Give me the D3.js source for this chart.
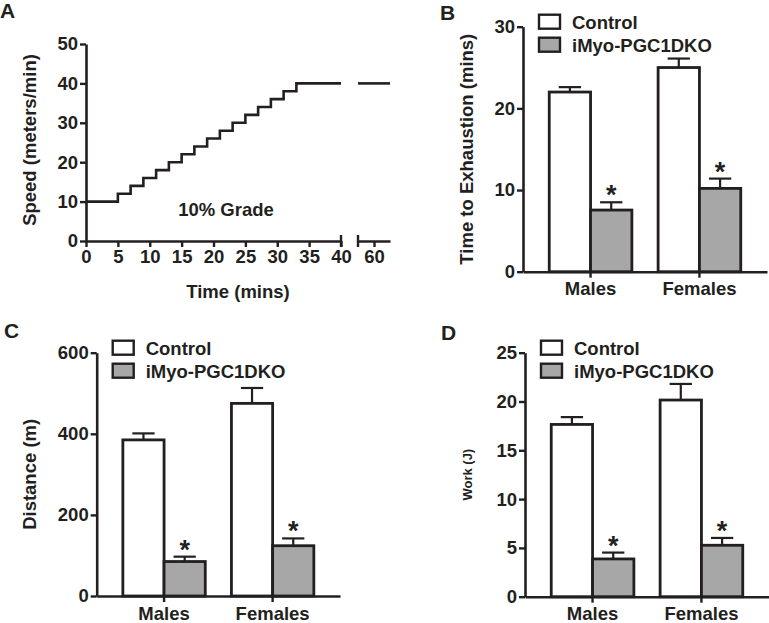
<!DOCTYPE html>
<html><head><meta charset="utf-8">
<script src="https://cdn.jsdelivr.net/npm/d3@7"></script>
<style>
body{margin:0;background:#fff;}
text{font-family:"Liberation Sans",Arial,sans-serif;font-weight:bold;fill:#231f20;}
</style></head>
<body><svg id="c" width="769" height="623"></svg>
<script>
// ---------- DATA ----------
// Panel A: treadmill protocol (step function)
const stepTimes  = [0, 5, 7, 9, 11, 13, 15, 17, 19, 21, 23, 25, 27, 29, 31, 33, 40];
const stepSpeeds = [10, 12, 14, 16, 18, 20, 22, 24, 26, 28, 30, 32, 34, 36, 38, 40, 40];
const tailTimes  = [57.5, 62.5];
const tailSpeeds = [40, 40];
const aXTicks1 = [0, 5, 10, 15, 20, 25, 30, 35, 40];
const aXTicks2 = [60];
const aYTicks = [0, 10, 20, 30, 40, 50];

const categories = ["Males", "Females"];
const seriesNames = ["Control", "iMyo-PGC1DKO"];
// Panel B: time to exhaustion (mins)
const timeControl = [22.0, 25.0];
const timeControlErr = [0.6, 1.1];
const timeKO = [7.55, 10.2];
const timeKOErr = [0.95, 1.2];
// Panel C: distance (m)
const distControl = [385, 475];
const distControlErr = [16, 38];
const distKO = [85, 124];
const distKOErr = [12, 18];
// Panel D: work (J)
const workControl = [17.65, 20.15];
const workControlErr = [0.75, 1.65];
const workKO = [3.87, 5.27];
const workKOErr = [0.65, 0.75];

const bTicks = [0, 10, 20, 30];
const cTicks = [0, 200, 400, 600];
const dTicks = [0, 5, 10, 15, 20, 25];

const fills = ["#ffffff", "#a7a7a7"];
const ink = "#231f20";
const TICK_FS = 18.5;

const svg = d3.select("#c");

function styleAxis(g, fs){
  g.selectAll(".domain").attr("stroke", ink).attr("stroke-width", 2.6);
  g.selectAll(".tick line").attr("stroke", ink).attr("stroke-width", 2.4);
  g.selectAll(".tick text").style("font-size", fs + "px").attr("fill", ink);
}

// ---------- Panel A ----------
(function(){
  const y = d3.scaleLinear().domain([0, 50]).range([241, 44]);
  const x1 = d3.scaleLinear().domain([0, 40]).range([86, 341]);
  const x2 = d3.scaleLinear().domain(tailTimes).range([358, 390]);
  const g = svg.append("g");
  const yAx = g.append("g").attr("transform", "translate(86,0)")
    .call(d3.axisLeft(y).tickValues(aYTicks).tickFormat(d3.format("d")).tickSize(6).tickPadding(2).tickSizeOuter(0));
  styleAxis(yAx, TICK_FS);
  const xAx1 = g.append("g").attr("transform", "translate(0,241)")
    .call(d3.axisBottom(x1).tickValues(aXTicks1).tickFormat(d3.format("d")).tickSize(6).tickPadding(3).tickSizeOuter(0));
  styleAxis(xAx1, TICK_FS);
  const xAx2 = g.append("g").attr("transform", "translate(0,241)")
    .call(d3.axisBottom(x2).tickValues(aXTicks2).tickFormat(d3.format("d")).tickSize(6).tickPadding(3).tickSizeOuter(0));
  styleAxis(xAx2, TICK_FS);
  // break marks
  [x1(40), x2(tailTimes[0])].forEach(bx => {
    g.append("line").attr("x1", bx).attr("x2", bx).attr("y1", 235).attr("y2", 247)
      .attr("stroke", ink).attr("stroke-width", 2.4);
  });
  const line1 = d3.line().x((d, i) => x1(stepTimes[i])).y(d => y(d)).curve(d3.curveStepAfter);
  g.append("path").datum(stepSpeeds).attr("d", line1).attr("fill", "none")
    .attr("stroke", ink).attr("stroke-width", 2.6);
  const line2 = d3.line().x((d, i) => x2(tailTimes[i])).y(d => y(d));
  g.append("path").datum(tailSpeeds).attr("d", line2).attr("fill", "none")
    .attr("stroke", ink).attr("stroke-width", 2.6);
  g.append("text").attr("x", 226).attr("y", 216).attr("text-anchor", "middle")
    .style("font-size", "18.5px").text("10% Grade");
  g.append("text").attr("x", 238).attr("y", 298).attr("text-anchor", "middle")
    .style("font-size", "18.5px").text("Time (mins)");
  g.append("text").attr("transform", "translate(36,140) rotate(-90)").attr("text-anchor", "middle")
    .style("font-size", "18.5px").text("Speed (meters/min)");
  g.append("text").attr("x", 0).attr("y", 18).style("font-size", "21px").text("A");
})();

// ---------- Bar panels ----------
function barPanel(opt){
  const {x0, x1, yBase, yTop, domMax, ticks, ctrl, ctrlErr, ko, koErr, yLabel, yLabelX, yLabelSize, letter, letterX, letterY} = opt;
  const g = svg.append("g");
  const y = d3.scaleLinear().domain([0, domMax]).range([yBase, yTop]);
  const x = d3.scaleBand().domain(categories).range([x0, x1]).paddingInner(0.241).paddingOuter(0.241);
  const xs = d3.scaleBand().domain(seriesNames).range([0, x.bandwidth()]);
  const vals = [ctrl, ko], errs = [ctrlErr, koErr];
  const data = [];
  categories.forEach((c, ci) => seriesNames.forEach((s, si) => {
    data.push({c, s, si, v: vals[si][ci], e: errs[si][ci]});
  }));
  // error bars (upward only)
  data.forEach(d => {
    const cx = x(d.c) + xs(d.s) + xs.bandwidth() / 2;
    g.append("line").attr("x1", cx).attr("x2", cx).attr("y1", y(d.v)).attr("y2", y(d.v + d.e))
      .attr("stroke", ink).attr("stroke-width", 2.2);
    g.append("line").attr("x1", cx - xs.bandwidth() * 0.27).attr("x2", cx + xs.bandwidth() * 0.27)
      .attr("y1", y(d.v + d.e)).attr("y2", y(d.v + d.e)).attr("stroke", ink).attr("stroke-width", 2.2);
    if (d.si === 1) {
      g.append("text").attr("x", cx).attr("y", y(d.v + d.e) + 2).attr("text-anchor", "middle")
        .style("font-size", "27px").text("*");
    }
  });
  g.selectAll("rect.bar").data(data).enter().append("rect").attr("class", "bar")
    .attr("x", d => x(d.c) + xs(d.s)).attr("width", xs.bandwidth())
    .attr("y", d => y(d.v)).attr("height", d => yBase - y(d.v))
    .attr("fill", d => fills[d.si]).attr("stroke", ink).attr("stroke-width", 2.8);
  const yAx = g.append("g").attr("transform", `translate(${x0},0)`)
    .call(d3.axisLeft(y).tickValues(ticks).tickFormat(d3.format("d")).tickSize(6).tickPadding(2).tickSizeOuter(0));
  styleAxis(yAx, TICK_FS);
  const xAx = g.append("g").attr("transform", `translate(0,${yBase})`)
    .call(d3.axisBottom(x).tickSize(6).tickPadding(4.5).tickSizeOuter(0));
  styleAxis(xAx, 18.5);
  // legend
  seriesNames.forEach((s, i) => {
    const by = yTop - 12 + i * 23;
    g.append("rect").attr("x", x0 + 16).attr("y", by).attr("width", 21).attr("height", 14)
      .attr("fill", fills[i]).attr("stroke", ink).attr("stroke-width", 2.4);
    g.append("text").attr("x", x0 + 49).attr("y", by + 14).style("font-size", "18.5px").text(s);
  });
  g.append("text").attr("transform", `translate(${yLabelX},${(yBase + yTop) / 2}) rotate(-90)`)
    .attr("text-anchor", "middle").style("font-size", yLabelSize + "px").text(yLabel);
  g.append("text").attr("x", letterX).attr("y", letterY).style("font-size", "21px").text(letter);
}

barPanel({x0: 523, x1: 767, yBase: 271.7, yTop: 26.7, domMax: 30, ticks: bTicks,
  ctrl: timeControl, ctrlErr: timeControlErr, ko: timeKO, koErr: timeKOErr,
  yLabel: "Time to Exhaustion (mins)", yLabelX: 473, yLabelSize: 18.5, letter: "B", letterX: 440, letterY: 20});
barPanel({x0: 96.7, x1: 340, yBase: 596, yTop: 352.7, domMax: 600, ticks: cTicks,
  ctrl: distControl, ctrlErr: distControlErr, ko: distKO, koErr: distKOErr,
  yLabel: "Distance (m)", yLabelX: 36, yLabelSize: 18.5, letter: "C", letterX: 4, letterY: 338});
barPanel({x0: 525, x1: 769, yBase: 596.7, yTop: 352.7, domMax: 25, ticks: dTicks,
  ctrl: workControl, ctrlErr: workControlErr, ko: workKO, koErr: workKOErr,
  yLabel: "Work (J)", yLabelX: 472, yLabelSize: 13, letter: "D", letterX: 441, letterY: 340});
</script></body></html>
